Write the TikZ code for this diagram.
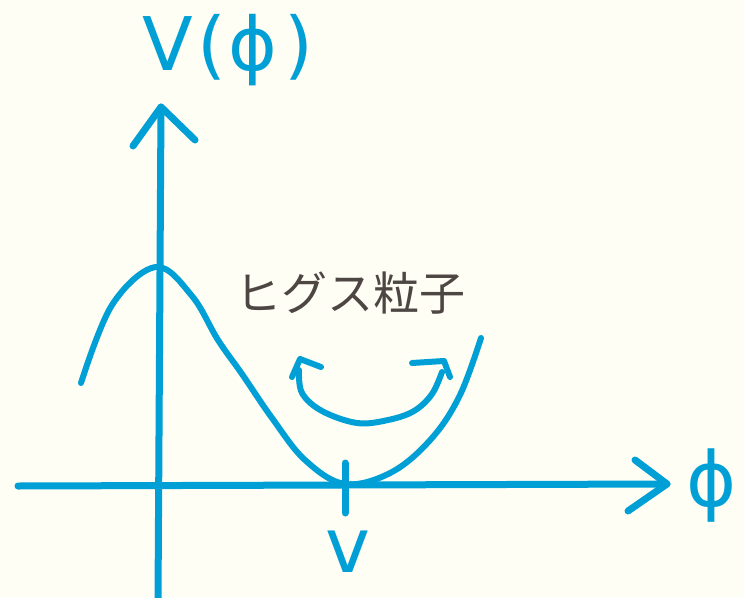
\documentclass[tikz,border=0pt]{standalone}
\usepackage{fontspec}
\usepackage{xcolor}
\usepackage{tikz}
\newfontfamily\jpfont{Noto Sans CJK JP}
\newfontfamily\penfont{DejaVu Sans}
\definecolor{paper}{RGB}{254,254,245}
\definecolor{penblue}{RGB}{0,160,214}
\definecolor{inkgray}{RGB}{77,70,66}

\begin{document}
\begin{tikzpicture}[
    x=1pt, y=-1pt,
    pen/.style={draw=penblue, line width=7pt, line cap=round, line join=round},
    handlabel/.style={text=penblue, inner sep=0pt},
    line cap=round
]
% Paper
\fill[paper] (0, 0) rectangle (744, 597);
\clip (0, 0) rectangle (744, 597);

% Axes
\coordinate (yfoot) at (158, 600);
\coordinate (ytip) at (161, 107);
\coordinate (xfoot) at (18, 486);
\coordinate (xtip) at (667, 484);
\draw[pen] (yfoot) -- (ytip);
\draw[pen] (133, 146) -- (ytip) -- (195, 140);
\draw[pen] (xfoot) -- (xtip);
\draw[pen] (635, 460) -- (xtip) -- (628, 511);

% Tick at the vacuum value
\coordinate (tickup) at (345, 463);
\coordinate (tickdown) at (345, 513);
\draw[pen] (tickup) -- (tickdown);

% Potential
\draw[pen, line width=6pt] plot[smooth, tension=0.6] coordinates {
    (81, 383) (112, 305) (156, 267) (192, 296) (218, 340) (242, 374)
    (272, 418) (305, 460) (345, 484) (392, 472) (432, 438) (460, 395) (481, 338)};

% Oscillation around the minimum
\coordinate (lefttip) at (300, 359);
\coordinate (righttip) at (444, 361);
\draw[pen, line width=6pt] plot[smooth, tension=0.6] coordinates {
    (299, 370) (302, 393) (322, 411) (357, 423) (388, 420) (414, 411)
    (432, 394) (442, 372)};
\draw[pen, line width=6pt] (292, 377) -- (lefttip) -- (321, 367);
\draw[pen, line width=6pt] (412, 363) -- (righttip) -- (450, 377);

% Labels
\node[handlabel, font=\penfont\fontsize{74}{74}\selectfont] (vlabel) at (228, 50)
    {V\kern4pt(\kern3ptϕ\kern7pt)};
\node[handlabel, font=\penfont\fontsize{76}{76}\selectfont] (philabel) at (712, 486) {ϕ};
\node[handlabel, font=\penfont\fontsize{76}{76}\selectfont] (vevlabel) at (348, 552) {v};
\node[text=inkgray, font=\jpfont\fontsize{46}{46}\selectfont] (higgs) at (350, 293)
    {ヒグス粒子};

\end{tikzpicture}
\end{document}
